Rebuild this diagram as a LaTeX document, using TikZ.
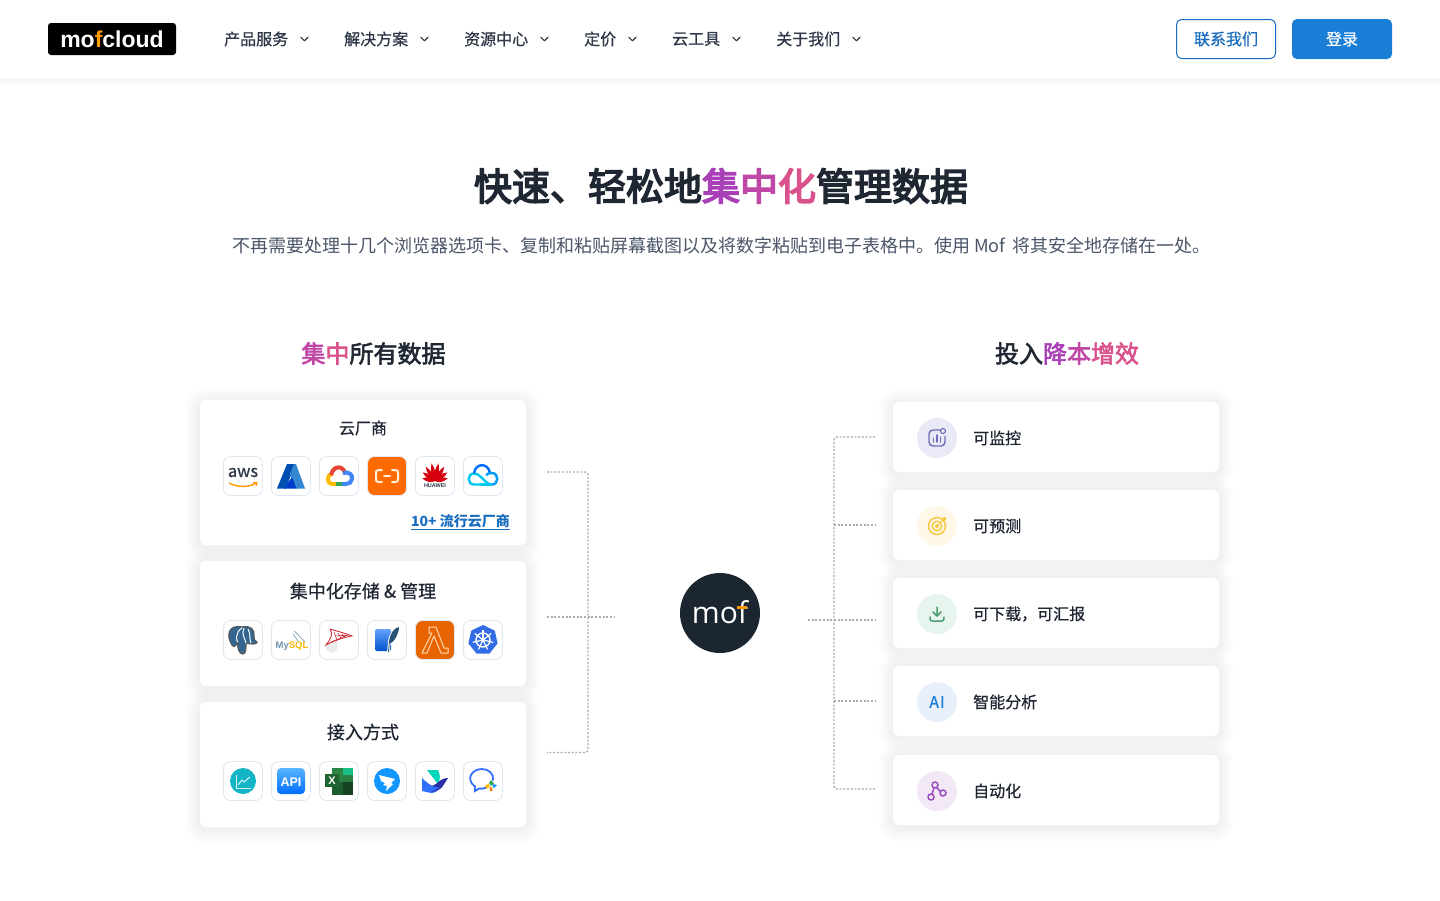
\documentclass[tikz,border=0pt]{standalone}
\usepackage{fontspec}
\setmainfont{Noto Sans CJK SC}
\newfontfamily\medfont[FakeBold=0.6]{Noto Sans CJK SC}
\newfontfamily\headfont[FakeBold=2.5]{Noto Sans CJK SC}
\newfontfamily\titlefont[FakeBold=4]{Noto Sans CJK SC}
\newfontfamily\logofont{Liberation Sans}
\newfontfamily\moffont{Open Sans}
\usetikzlibrary{positioning,calc,backgrounds}
\definecolor{ink}{HTML}{1F2733}
\definecolor{nav}{HTML}{2D3748}
\definecolor{subtext}{HTML}{4A5568}
\definecolor{link}{HTML}{1A6DBE}
\definecolor{azure}{HTML}{1A7DD6}
\definecolor{hairline}{HTML}{DEE6F2}
\definecolor{dotline}{HTML}{ABABAB}
\definecolor{tone1}{HTML}{A940B8}
\definecolor{tone2}{HTML}{BF47A5}
\definecolor{tone3}{HTML}{D9528C}
\definecolor{amber}{HTML}{FF9900}
\definecolor{gred}{HTML}{EA4335}
\definecolor{gblue}{HTML}{4285F4}
\definecolor{ggreen}{HTML}{34A853}
\definecolor{gyellow}{HTML}{FBBC04}
\definecolor{aliorange}{HTML}{FF6A00}
\definecolor{awsorange}{HTML}{E86400}
\definecolor{huaweired}{HTML}{D7000F}
\definecolor{tencyan}{HTML}{00C8F0}
\definecolor{tenblue}{HTML}{006EFF}
\definecolor{pgblue}{HTML}{336791}
\definecolor{kubeblue}{HTML}{326CE5}
\definecolor{linerose}{HTML}{D0313B}
\definecolor{dingblue}{HTML}{1296FF}
\definecolor{larkteal}{HTML}{00D6B9}
\definecolor{larkblue}{HTML}{3370FF}
\definecolor{larkdark}{HTML}{2A2FA8}
\definecolor{chartteal}{HTML}{12B5C5}
\definecolor{monitortone}{HTML}{6C6CB8}
\definecolor{forecasttone}{HTML}{F7C948}
\definecolor{reporttone}{HTML}{4A9D6E}
\definecolor{automatetone}{HTML}{9B4FBD}
\tikzset{
        card/.style = {fill=white, rectangle, rounded corners=6pt, minimum width=326pt, outer sep=0pt},
        iconbox/.style = {draw=hairline, line width=0.8pt, fill=white, rectangle, rounded corners=7pt, minimum size=39pt, outer sep=0pt},
        disc/.style = {circle, minimum size=40pt, inner sep=0pt, outer sep=0pt},
        label/.style = {text=ink, inner sep=0pt, font=\medfont\fontsize{16}{20}\selectfont},
        navitem/.style = {text=nav, inner sep=0pt, font=\medfont\fontsize{16}{20}\selectfont},
        chevron/.style = {draw=nav, line width=1.2pt, line cap=round, line join=round},
        line/.style = {draw=dotline, line width=1.3pt, dash pattern=on 2pt off 1.7pt, rounded corners=3pt}}
\newcommand{\halo}[2]{\foreach \w in {2,4,...,#2}
    \draw[black, opacity=#1, line width=\w pt, rounded corners=6pt] ([yshift=-2pt]\n.north west) rectangle ([yshift=-2pt]\n.south east);}
\begin{document}
\begin{tikzpicture}[x=1pt,y=-1pt]
    \useasboundingbox (0,0) rectangle (1440,900);

    \node [fill=white, minimum width=1440pt, minimum height=78pt, anchor=north west, inner sep=0pt, outer sep=0pt] (header) at (0,0) {};
    \node [fill=black, rounded corners=3pt, minimum width=128pt, minimum height=32pt, inner sep=0pt] (logo) at (112,39) {\logofont\bfseries\fontsize{23}{26}\selectfont\textcolor{white}{mo}\textcolor{amber}{f}\textcolor{white}{cloud}};
    \node [navitem, anchor=west] (products) at (224,39) {产品服务};
    \node [navitem, anchor=west] (solutions) at (344,39) {解决方案};
    \node [navitem, anchor=west] (resources) at (464,39) {资源中心};
    \node [navitem, anchor=west] (pricing) at (584,39) {定价};
    \node [navitem, anchor=west] (tools) at (672,39) {云工具};
    \node [navitem, anchor=west] (about) at (776,39) {关于我们};
    \foreach \n in {products,solutions,resources,pricing,tools,about}
        \draw [chevron] ([xshift=12.5pt,yshift=1.7pt]\n.east) -- ++(3.5,3.5) -- ++(3.5,-3.5);
    \node [draw=link, line width=1pt, fill=white, rounded corners=5pt, minimum width=99pt, minimum height=39pt, inner sep=0pt, text=link, font=\medfont\fontsize{16}{20}\selectfont] (contact) at (1226,39) {联系我们};
    \node [fill=azure, rounded corners=5pt, minimum width=100pt, minimum height=40pt, inner sep=0pt, text=white, font=\medfont\fontsize{16}{20}\selectfont] (login) at (1342,39) {登录};

    \node [text=ink, inner sep=0pt, font=\titlefont\fontsize{38}{44}\selectfont] (title) at (721,186) {快速、轻松地\textcolor{tone1}{集}\textcolor{tone2}{中}\textcolor{tone3}{化}管理数据};
    \node [text=subtext, inner sep=0pt, anchor=west, font=\fontsize{18}{24}\selectfont] (subtitle) at (232,245.5) {不再需要处理十几个浏览器选项卡、复制和粘贴屏幕截图以及将数字粘贴到电子表格中。使用 Mof \hspace{3pt}将其安全地存储在一处。};
    \node [text=ink, inner sep=0pt, font=\headfont\fontsize{24}{30}\selectfont] (lefthead) at (373.5,353.5) {\textcolor{tone2}{集}\textcolor{tone3}{中}所有数据};
    \node [text=ink, inner sep=0pt, font=\headfont\fontsize{24}{30}\selectfont] (righthead) at (1067,353.5) {投入\textcolor{tone1}{降}\textcolor{tone2}{本}\textcolor{tone3}{增}\textcolor{tone3}{效}};

    \node [card, minimum height=145pt] (cloud) at (363,472.5) {};
    \node [card, minimum height=125pt, below=16pt of cloud] (storage) {};
    \node [card, minimum height=125pt, below=16pt of storage] (access) {};
    \node [card, minimum height=70pt] (monitor) at (1056,437) {};
    \node [card, minimum height=70pt, below=18pt of monitor] (forecast) {};
    \node [card, minimum height=70pt, below=18pt of forecast] (report) {};
    \node [card, minimum height=70pt, below=18pt of report] (analysis) {};
    \node [card, minimum height=70pt, below=19pt of analysis] (automate) {};

    \begin{pgfonlayer}{background}
        \foreach \n in {cloud,storage,access,monitor,forecast,report,analysis,automate} {\halo{0.005}{30}}
        \foreach \n in {header,login} {\halo{0.008}{10}}
    \end{pgfonlayer}

    \node [label] (cloudtitle) at (363,428) {云厂商};
    \node [label, font=\medfont\fontsize{18}{22}\selectfont] (storagetitle) at (363,591) {集中化存储 \& 管理};
    \node [label, font=\medfont\fontsize{18}{22}\selectfont] (accesstitle) at (363,732) {接入方式};
    \node [inner sep=0pt, text=link, font=\bfseries\fontsize{14}{18}\selectfont, anchor=east] (more) at (510,522) {\underline{10+ 流行云厂商}};

    \node [iconbox] (aws) at (243,476) {};
    \node [iconbox, right=9pt of aws] (azureicon) {};
    \node [iconbox, right=9pt of azureicon] (gcloud) {};
    \node [iconbox, right=9pt of gcloud, fill=aliorange] (aliyun) {};
    \node [iconbox, right=9pt of aliyun] (huawei) {};
    \node [iconbox, right=9pt of huawei] (tencent) {};
    \node [iconbox] (postgres) at (243,640) {};
    \node [iconbox, right=9pt of postgres] (mysql) {};
    \node [iconbox, right=9pt of mysql] (sqlserver) {};
    \node [iconbox, right=9pt of sqlserver] (sqlite) {};
    \node [iconbox, right=9pt of sqlite, fill=awsorange] (lambda) {};
    \node [iconbox, right=9pt of lambda] (kube) {};
    \node [iconbox] (chart) at (243,781) {};
    \node [iconbox, right=9pt of chart] (api) {};
    \node [iconbox, right=9pt of api] (excel) {};
    \node [iconbox, right=9pt of excel] (dingtalk) {};
    \node [iconbox, right=9pt of dingtalk] (lark) {};
    \node [iconbox, right=9pt of lark] (wecom) {};

    % cloud vendors
    \begin{scope}[shift={(aws)}]
        \node [inner sep=0pt, text=nav, font=\medfont\fontsize{16.5}{17}\selectfont] (awstext) at (0,-3.5) {aws};
        \draw [amber, line width=1.4pt] (-14,7) .. controls (-7,11) and (6,12) .. (13,7);
        \draw [amber, line width=1.1pt] (10,6.5) -- (14,6.5) -- (13,10);
    \end{scope}
    \begin{scope}[shift={(azureicon)}]
        \fill [blue!55!cyan!70!black] (-4,-12) -- (4,-12) -- (-5,12.5) -- (-14,12.5) -- cycle;
        \fill [cyan!60!blue!85!white] (3,-12) -- (5,-12) -- (14,12.5) -- (5,12.5) -- (-1,-2) -- cycle;
        \fill [blue!70!cyan!80!black] (-7,12.5) -- (1,1) -- (5.5,12.5) -- cycle;
    \end{scope}
    \begin{scope}[shift={(gcloud)}, line width=4pt]
        \draw [gyellow] (-2,8) -- (-6,8) .. controls (-13,8) and (-13,-2) .. (-6,-2);
        \draw [gred] (-8,-1) .. controls (-6,-11) and (5,-11) .. (6,-2);
        \draw [gblue] (4,-3) .. controls (10,-5) and (14,-1) .. (13,3) .. controls (13,6) and (10,8) .. (7,8) -- (2,8);
        \draw [ggreen] (-3,8) -- (3,8);
    \end{scope}
    \begin{scope}[shift={(aliyun)}, draw=orange!15!white, line width=2pt, line cap=round]
        \draw (-5,-6) -- (-8,-6) .. controls (-11,-6) and (-11,-5) .. (-11,-3) -- (-11,3) .. controls (-11,5) and (-11,6) .. (-8,6) -- (-5,6);
        \draw (5,-6) -- (8,-6) .. controls (11,-6) and (11,-5) .. (11,-3) -- (11,3) .. controls (11,5) and (11,6) .. (8,6) -- (5,6);
        \draw (-3,0) -- (3,0);
    \end{scope}
    \begin{scope}[shift={(huawei)}]
        \foreach \a/\l in {-78/13,-55/15,-33/17,-11/18,11/18,33/17,55/15,78/13}
            \fill [huaweired, rotate around={\a:(0,5)}] (0,5) .. controls (-3,2) and (-2.6,{5-\l*0.7}) .. (0,{5-\l}) .. controls (2.6,{5-\l*0.7}) and (3,2) .. (0,5);
        \node [inner sep=0pt, text=nav, font=\logofont\bfseries\fontsize{5.5}{6}\selectfont] (huaweitext) at (0,9.5) {HUAWEI};
    \end{scope}
    \begin{scope}[shift={(tencent)}, line width=2.4pt]
        \draw [tencyan] (-3,8.5) -- (-9,8.5) .. controls (-16,8.5) and (-16,-2.5) .. (-9,-2.5) .. controls (-5,-2.5) and (-2,1) .. (2,5) .. controls (4,7) and (6,8.5) .. (9,8.5);
        \draw [tenblue] (-9,-2.5) .. controls (-8,-13) and (5,-14) .. (7,-3);
        \draw [tencyan!50!tenblue] (3,-1) .. controls (5,-3) and (7,-3) .. (9,-3) .. controls (16,-3) and (16,8.5) .. (9,8.5);
        \draw [tencyan] (9,8.5) -- (-3,8.5);
    \end{scope}

    % storage
    \begin{scope}[shift={(postgres)}]
        \fill [pgblue, draw=black!65, line width=1.2pt] (-1,-13) .. controls (-15,-16) and (-17,-4) .. (-11,5) .. controls (-9,8) and (-7,6) .. (-5,2) .. controls (-6,8) and (-4,14) .. (0,14) .. controls (3,14) and (3,8) .. (3,3) .. controls (7,4) and (14,5) .. (14,2) .. controls (11,1) and (11,-1) .. (11,-4) .. controls (12,-10) and (8,-15) .. (-1,-13);
        \draw [white, line width=1pt] (-1,-12) .. controls (-8,-8) and (-7,2) .. (-5,2) (3,3) .. controls (2,-2) and (-2,-6) .. (1,-12) (5,-11) .. controls (8,-6) and (6,-1) .. (8,3);
    \end{scope}
    \begin{scope}[shift={(mysql)}]
        \node [inner sep=0pt, font=\logofont\bfseries\fontsize{9.5}{10}\selectfont] (mysqltext) at (1,6) {\textcolor{pgblue!70!white}{My}\textcolor{gyellow!80!amber}{SQL}};
        \draw [pgblue!70!white, line width=0.6pt] (3,-9) .. controls (7,-6) and (8,-4) .. (10,-2) .. controls (12,0) and (13,0) .. (14,2) (2,-6) .. controls (3,-3) and (6,-2) .. (7,1);
    \end{scope}
    \begin{scope}[shift={(sqlserver)}]
        \fill [gray!15] (-13,5) .. controls (-8,2) and (-5,1) .. (-2,0) .. controls (-1,5) and (0,10) .. (-6,13) .. controls (-11,13) and (-15,9) .. (-13,5);
        \draw [linerose, line width=0.9pt] (-9,-11) .. controls (-3,-9) and (6,-7) .. (13,-4) .. controls (6,-3) and (-6,1) .. (-13,5) .. controls (-9,0) and (-5,-6) .. (-9,-11);
        \draw [linerose, line width=0.6pt] (-5,-8) -- (-2,0) (-1,-7) -- (2,-2) (3,-6) -- (5,-3) (-8,2) -- (9,-5) (-4,-4) -- (10,-5);
    \end{scope}
    \begin{scope}[shift={(sqlite)}]
        \shade [top color=cyan!40!blue!60!white, bottom color=blue!60!cyan!80!black, rounded corners=2pt] (-12,-11) rectangle (4,11);
        \fill [white] (13,-14) .. controls (6,-13) and (2,-6) .. (1,1) -- (0,13) -- (3,13) -- (3,5) .. controls (8,3) and (13,-5) .. (13,-14);
        \fill [pgblue!80!black] (12,-13) .. controls (6,-12) and (3,-5) .. (2,1) -- (1,12) -- (2,12) -- (2.5,4) .. controls (7,2) and (12,-6) .. (12,-13);
    \end{scope}
    \draw [shift={(lambda)}, orange!30!white, line width=1pt, line join=round] (-6,-13) -- (1,-13) -- (9,8) -- (13,8) -- (13,13) -- (6,13) -- (-1,-4) -- (-8,13) -- (-13,13) -- (-3,-7) -- (-6,-7) -- cycle;
    \begin{scope}[shift={(kube)}]
        \fill [kubeblue] (-90:15) -- (-38.6:15) -- (12.9:15) -- (64.3:15) -- (115.7:15) -- (167.1:15) -- (218.6:15) -- cycle;
        \draw [white, line width=1.4pt] (0,0) circle (7);
        \foreach \a in {-90,-38.6,12.9,64.3,115.7,167.1,218.6}
            \draw [white, line width=1.2pt] (0,0) -- (\a:10.5);
        \fill [white] (0,0) circle (2);
    \end{scope}

    % access methods
    \begin{scope}[shift={(chart)}]
        \fill [chartteal] (0,0) circle (13);
        \draw [white!85!chartteal, line width=0.8pt] (-7,-6) -- (-7,7) -- (8,7);
        \draw [white!85!chartteal, line width=1pt] (-5,4) -- (-1,-1) -- (1,1) -- (7,-4);
    \end{scope}
    \begin{scope}[shift={(api)}]
        \shade [top color=dingblue!70!white, bottom color=tenblue, rounded corners=4pt] (-14,-13) rectangle (14,13);
        \node [inner sep=0pt, text=white, font=\logofont\bfseries\fontsize{12.5}{13}\selectfont] (apitext) at (0,1) {API};
    \end{scope}
    \begin{scope}[shift={(excel)}]
        \fill [ggreen!80!black] (-7,-13) rectangle (14,0.5);
        \fill [larkteal!50!ggreen] (3.5,-13) rectangle (14,-6);
        \fill [ggreen!75!black] (3.5,-6) rectangle (14,0.5);
        \fill [ggreen!55!black] (-7,0.5) rectangle (3.5,14);
        \fill [ggreen!40!black] (3.5,0.5) rectangle (14,14);
        \fill [ggreen!60!black] (-14,-7) rectangle (0,6);
        \node [inner sep=0pt, text=white, font=\logofont\bfseries\fontsize{11}{12}\selectfont] (exceltext) at (-7,-0.5) {X};
    \end{scope}
    \begin{scope}[shift={(dingtalk)}]
        \fill [dingblue] (0,0) circle (13);
        \fill [white] (-8,-6) -- (8,-2) -- (4,2) -- (6,3) -- (-1,10) -- (0,5) -- (-4,4) -- (-2,2) -- (-6,0) -- cycle;
    \end{scope}
    \begin{scope}[shift={(lark)}]
        \fill [larkteal] (-8,-11) -- (3,-11) .. controls (5,-6) and (6,-4) .. (3,3) -- cycle;
        \fill [larkblue] (-13,-3) .. controls (-6,4) and (0,7) .. (5,6) .. controls (3,10) and (0,12) .. (-4,12) -- (-13,10) -- cycle;
        \fill [larkdark] (-3,5) .. controls (3,3) and (5,-3) .. (13,-3) .. controls (9,2) and (8,10) .. (-4,11) .. controls (0,9) and (3,8) .. (5,6) .. controls (2,6.5) and (-1,6) .. (-3,5);
    \end{scope}
    \begin{scope}[shift={(wecom)}]
        \draw [larkblue, line width=1.8pt, line cap=round] (4,6) .. controls (0,8) and (-2,8) .. (-4,7.5) -- (-8,10) -- (-8,5.5) .. controls (-18,-2) and (-11,-12) .. (-1,-12) .. controls (6,-12) and (11,-7) .. (10,-1);
        \fill [ggreen] (8,-1) -- (11,2) -- (8,5) -- (6,2) -- cycle;
        \fill [gyellow] (2,5) -- (5.5,2.5) -- (7,5.5) -- (3.5,8) -- cycle;
        \fill [amber!60!gred] (6.5,6.5) -- (9,6) -- (9.5,10) -- (7,10) -- cycle;
        \fill [dingblue] (10,3) -- (14,4) -- (11,7) -- (9.5,5) -- cycle;
    \end{scope}

    \node [disc, fill={rgb,255:red,234;green,234;blue,246}] (monitordisc) at ($(monitor.west)+(44,1)$) {};
    \node [disc, fill={rgb,255:red,255;green,248;blue,232}] (forecastdisc) at ($(forecast.west)+(44,1)$) {};
    \node [disc, fill={rgb,255:red,232;green,245;blue,238}] (reportdisc) at ($(report.west)+(44,1)$) {};
    \node [disc, fill={rgb,255:red,232;green,241;blue,251}] (analysisdisc) at ($(analysis.west)+(44,1)$) {};
    \node [disc, fill={rgb,255:red,243;green,232;blue,246}] (automatedisc) at ($(automate.west)+(44,1)$) {};
    \node [label, right=16pt of monitordisc] (monitortext) {可监控};
    \node [label, right=16pt of forecastdisc] (forecasttext) {可预测};
    \node [label, right=16pt of reportdisc] (reporttext) {可下载，可汇报};
    \node [label, right=16pt of analysisdisc] (analysistext) {智能分析};
    \node [label, right=16pt of automatedisc] (automatetext) {自动化};

    \begin{scope}[shift={(monitordisc)}, draw=monitortone, line width=1.4pt]
        \draw [rounded corners=4pt] (3,-8) -- (-8,-8) -- (-8,8) -- (8,8) -- (8,-2);
        \draw [line cap=round] (-3.5,4) -- (-3.5,0) (0,4) -- (0,-3) (3.5,4) -- (3.5,-1);
        \draw [line width=1.1pt] (6,-7) circle (2.5);
    \end{scope}
    \begin{scope}[shift={(forecastdisc)}, draw=forecasttone, line width=1.5pt]
        \draw (0,0) circle (8.5) (0,0) circle (4.8);
        \fill [forecasttone] (0,0) circle (2);
        \fill [forecasttone] (0,0) -- (5,-6) -- (6,-9) -- (9,-9) -- (9,-6) -- (6,-5) -- cycle;
    \end{scope}
    \begin{scope}[shift={(reportdisc)}, draw=reporttone, line width=1.5pt, line cap=round, line join=round]
        \draw (0,-7) -- (0,2) (-4,-2) -- (0,2) -- (4,-2);
        \draw (-7,3) .. controls (-7,7) and (-6,7) .. (-4,7) -- (4,7) .. controls (6,7) and (7,7) .. (7,3);
    \end{scope}
    \node [inner sep=0pt, text=azure, font=\medfont\fontsize{16}{20}\selectfont] (aitext) at (analysisdisc) {A\kern1pt I};
    \begin{scope}[shift={(automatedisc)}, draw=automatetone, line width=1.5pt]
        \draw (-2,-6) circle (3) (6,2) circle (3) (-6,6) circle (3);
        \draw (-0.5,-3.5) -- (3.5,0.5) (-3,-3) -- (-5,3);
    \end{scope}

    \node [circle, fill={rgb,255:red,28;green,38;blue,48}, minimum size=80pt, inner sep=0pt, text=white, font=\moffont\fontsize{30}{32}\selectfont] (mof) at (720,613) {\raisebox{1.5pt}{mof}};
    \fill [amber] (736.5,606) rectangle (747,609);

    \coordinate (cloudend) at (547,472);
    \coordinate (storageend) at (547,617);
    \coordinate (accessend) at (547,752.5);
    \coordinate (lefthub) at (588,617);
    \coordinate (mofin) at (614,617);
    \coordinate (mofout) at (808,620);
    \coordinate (righthub) at (834,620);
    \coordinate (monitorend) at (875,437);
    \coordinate (forecastend) at (875,525);
    \coordinate (reportend) at (875,620);
    \coordinate (analysisend) at (875,701);
    \coordinate (automateend) at (875,789);

    \begin{scope}[line]
    \draw (cloudend) -| (lefthub) |- (accessend);
    \draw (storageend) -- (mofin);
    \draw (monitorend) -| (righthub) |- (automateend);
    \draw (mofout) -- (reportend);
    \draw (righthub |- forecastend) -- (forecastend);
    \draw (righthub |- analysisend) -- (analysisend);
    \end{scope}
\end{tikzpicture}
\end{document}
